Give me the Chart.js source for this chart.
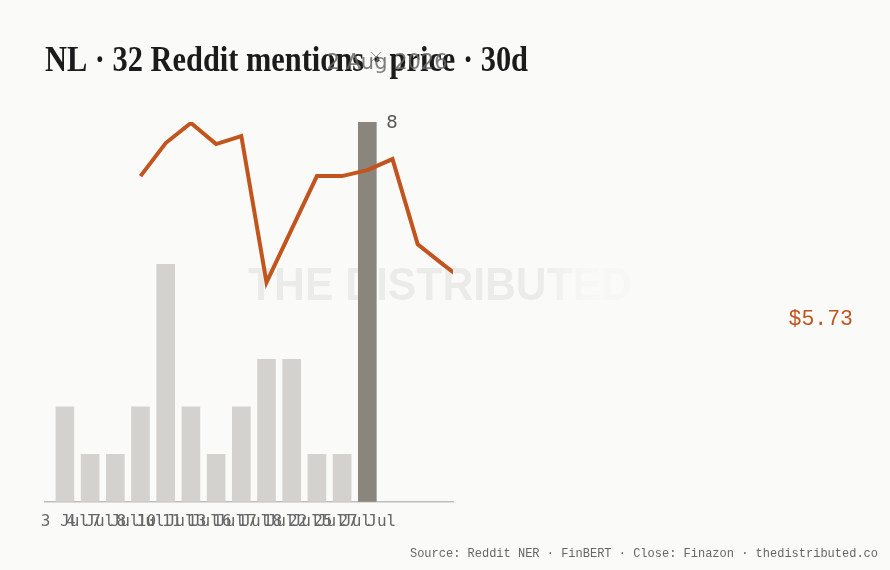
<!DOCTYPE html>
<html>
<head>
<meta charset="utf-8">
<script src="https://cdn.jsdelivr.net/npm/chart.js@4.4.1/dist/chart.umd.min.js"></script>
<style>
  html, body { margin: 0; padding: 0; background: #fafaf8; }
  #wrap { width: 890px; height: 570px; position: relative; }
</style>
</head>
<body>
<div id="wrap"><canvas id="mentionsChart"></canvas></div>
<script>
// mention days (one bar each)
const dates = ['3 Jul', '4 Jul', '7 Jul', '8 Jul', '10 Jul', '11 Jul', '13 Jul',
               '16 Jul', '17 Jul', '18 Jul', '22 Jul', '25 Jul', '27 Jul'];
const mentions = [2, 1, 1, 2, 5, 2, 1, 2, 3, 3, 1, 1, 8];

// daily close, same index as dates (runs on past the last mention day)
const closes = [null, null, null, 7.16, 7.49, 7.69, 7.48, 7.56, 6.10, 6.63,
                7.16, 7.16, 7.22, 7.33, 6.48, 6.28, 6.09, 5.73];

const ticker = 'NL';
const eventLabel = '2 Aug 2026';
const sourceText = 'Source: Reddit NER · FinBERT · Close: Finazon · thedistributed.co';

const total = mentions.reduce((a, b) => a + b, 0);
const peak = Math.max(...mentions);
const lastClose = closes[closes.length - 1];

const barData = mentions.map((v, i) => ({ x: i, y: v }));
const priceData = [];
closes.forEach((v, i) => { if (v !== null) priceData.push({ x: i, y: v }) });

const ORANGE = '#c2541d';

const decor = {
    id: 'decor',
    beforeDatasetsDraw(chart) {
        const ctx = chart.ctx;
        // watermark, fading out on the right
        ctx.save();
        ctx.font = 'bold 46px "Liberation Sans", Arial, sans-serif';
        ctx.textBaseline = 'alphabetic';
        let g = ctx.createLinearGradient(248, 0, 632, 0);
        g.addColorStop(0, 'rgba(0,0,0,0.06)');
        g.addColorStop(0.86, 'rgba(0,0,0,0.06)');
        g.addColorStop(1, 'rgba(0,0,0,0.012)');
        ctx.fillStyle = g;
        ctx.fillText('THE DISTRIBUTED', 248, 300, 384);
        ctx.restore();
    },
    afterDraw(chart) {
        const ctx = chart.ctx;
        const x = chart.scales.x, y = chart.scales.y;
        ctx.save();
        // title
        ctx.fillStyle = '#1b1b1b';
        ctx.font = 'bold 36px "Liberation Serif", "DejaVu Serif", serif';
        ctx.textBaseline = 'alphabetic';
        ctx.fillText(`${ticker} · ${total} Reddit mentions · price · 30d`, 45, 71, 483);

        // event marker
        ctx.strokeStyle = 'rgba(120,120,120,0.8)';
        ctx.lineWidth = 1;
        ctx.beginPath();
        ctx.moveTo(371, 52); ctx.lineTo(381, 62);
        ctx.moveTo(381, 52); ctx.lineTo(371, 62);
        ctx.stroke();
        ctx.fillStyle = 'rgba(105,105,105,0.85)';
        ctx.font = '21px "DejaVu Sans", sans-serif';
        ctx.textAlign = 'center';
        ctx.textBaseline = 'middle';
        ctx.fillText(eventLabel, 387, 64);

        // peak label
        const pi = mentions.indexOf(peak);
        ctx.fillStyle = '#555';
        ctx.font = '18px "DejaVu Sans", sans-serif';
        ctx.textAlign = 'left';
        ctx.fillText(String(peak), x.getPixelForValue(pi) + 19, y.getPixelForValue(peak) + 1);

        // last close
        ctx.fillStyle = ORANGE;
        ctx.font = '21.5px "Liberation Mono", monospace';
        ctx.textAlign = 'right';
        ctx.fillText('$' + lastClose.toFixed(2), 853, 319);

        // source line
        ctx.fillStyle = '#666';
        ctx.font = '12px "Liberation Mono", monospace';
        ctx.textAlign = 'right';
        ctx.textBaseline = 'middle';
        ctx.fillText(sourceText, 878, 554);
        ctx.restore();
    }
};

const ctxm = document.getElementById('mentionsChart').getContext('2d');
const myChart = new Chart(ctxm, {
    type: 'bar',
    data: {
        datasets: [{
            type: 'line',
            label: 'close',
            data: priceData,
            yAxisID: 'p',
            borderColor: ORANGE,
            borderWidth: 4,
            pointRadius: 0,
            tension: 0,
            borderJoinStyle: 'miter',
            order: 1
        }, {
            label: 'mentions',
            data: barData,
            yAxisID: 'y',
            backgroundColor: mentions.map(v => v === peak ? '#8a867d' : '#d3d2ce'),
            barThickness: 18,
            order: 2
        }]
    },
    options: {
        responsive: true,
        maintainAspectRatio: false,
        animation: false,
        layout: { padding: { left: 45, right: 437, top: 122, bottom: 37 } },
        plugins: { legend: { display: false }, tooltip: { enabled: false } },
        scales: {
            x: {
                type: 'linear',
                offset: false,
                min: -0.79,
                max: 15.4,
                grid: { display: false },
                border: { color: '#bdbdbb', width: 1.5 },
                afterBuildTicks: s => { s.ticks = dates.map((d, i) => ({ value: i })) },
                ticks: {
                    autoSkip: false,
                    maxRotation: 0,
                    minRotation: 0,
                    padding: 2,
                    color: '#666',
                    font: { family: '"DejaVu Sans Mono", monospace', size: 16 },
                    callback: v => dates[v] ?? ''
                }
            },
            y: { display: false, min: 0, max: 8 },
            p: { display: false, position: 'right', min: 3.91, max: 7.70 }
        }
    },
    plugins: [decor]
});
</script>
</body>
</html>
